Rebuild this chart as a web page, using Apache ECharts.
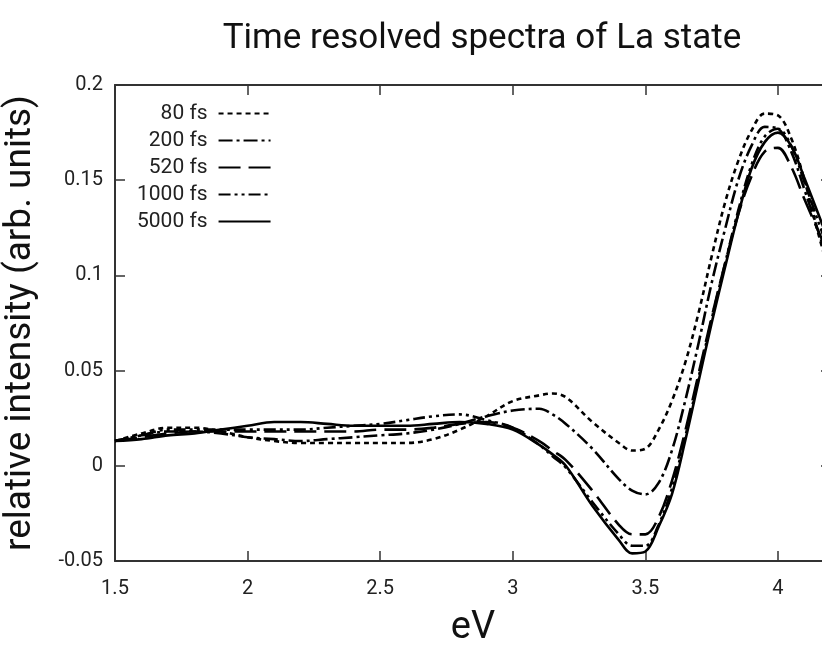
<!DOCTYPE html>
<html><head><meta charset="utf-8">
<script src="https://cdn.jsdelivr.net/npm/echarts@6/dist/echarts.min.js"></script>
<style>html,body{margin:0;padding:0;background:#fff}#c{width:822px;height:645px}</style>
</head><body><div id="c"></div>
<script>
const energy = [1.5,1.6,1.7,1.8,1.9,2.0,2.1,2.2,2.3,2.4,2.5,2.6,2.7,2.8,2.9,
  3.0,3.1,3.15,3.2,3.3,3.4,3.45,3.5,3.55,3.6,3.65,3.7,3.75,3.8,3.85,3.9,3.95,4.0,4.05,4.1,4.15,4.2];
const s80 = [.013,.017,.020,.020,.018,.015,.013,.012,.012,.012,.012,.012,.014,.019,.026,
  .034,.037,.038,.036,.023,.012,.008,.009,.019,.034,.054,.080,.110,.138,.160,.176,.185,.184,.172,.150,.123,.098];
const s200 = [.013,.016,.018,.018,.017,.015,.014,.013,.014,.015,.016,.017,.019,.022,.026,
  .029,.030,.027,.022,.009,-.007,-.013,-.015,-.009,.008,.034,.064,.096,.124,.150,.168,.178,.177,.165,.145,.124,.102];
const s520 = [.013,.015,.017,.018,.018,.018,.018,.018,.018,.018,.019,.019,.020,.022,.023,
  .020,.013,.008,.003,-.013,-.031,-.036,-.036,-.027,-.008,.018,.048,.078,.106,.132,.152,.165,.167,.157,.140,.124,.108];
const s1000 = [.013,.016,.019,.019,.019,.019,.019,.019,.020,.021,.022,.024,.026,.027,.024,
  .020,.011,.005,-.001,-.019,-.036,-.042,-.042,-.031,-.012,.015,.046,.077,.106,.134,.158,.173,.177,.168,.149,.129,.110];
const s5000 = [.013,.014,.016,.017,.019,.021,.023,.023,.022,.021,.021,.021,.022,.023,.022,
  .019,.011,.006,.000,-.021,-.039,-.046,-.045,-.032,-.015,.013,.044,.075,.104,.132,.156,.170,.175,.168,.151,.133,.115];
const seriesNames = ['80 fs','200 fs','520 fs','1000 fs','5000 fs'];
const seriesValues = [s80, s200, s520, s1000, s5000];
const dashes = [[5,4],[14,4,3,4],[22,8],[12,4,3,4,3,4],'solid'];
const titleText = 'Time resolved spectra of La state';
const xName = 'eV';
const yName = 'relative intensity (arb. units)';

const FONT = 'Roboto';
const axisColor = '#333';
const chart = echarts.init(document.getElementById('c'), null, {renderer:'canvas'});
const series = seriesNames.map((n,i)=>({
  name:n, type:'line', symbol:'none', smooth:0.35,
  data: energy.map((x,j)=>[x, seriesValues[i][j]]),
  lineStyle:{color:'#000', width:2.6, type:dashes[i]},
  itemStyle:{color:'#000'}, xAxisIndex:0, yAxisIndex:0
}));
const tickCommon = {show:true, inside:true, length:10, lineStyle:{color:axisColor, width:1.5}};
const lineCommon = {show:true, onZero:false, lineStyle:{color:axisColor, width:2}};
chart.setOption({
  animation:false,
  backgroundColor:'#fff',
  title:{text:titleText, left:477, textAlign:'center', top:17,
    textStyle:{fontFamily:FONT, fontSize:35, fontWeight:'normal', color:'#111'}},
  legend:{orient:'vertical', left:132, top:98, align:'right', itemGap:6,
    itemWidth:52, itemHeight:16,
    itemStyle:{opacity:0},
    textStyle:{fontFamily:FONT, fontSize:21, color:'#222', padding:[0,6,0,0]},
    data:seriesNames},
  grid:{left:115, top:85, width:716, height:476, containLabel:false, outerBoundsMode:'none'},
  xAxis:[{type:'value', min:1.5, max:4.2, interval:0.5, position:'bottom',
    name:xName, nameLocation:'middle', nameGap:48,
    nameTextStyle:{fontFamily:FONT, fontSize:38, color:'#111'},
    axisLine:lineCommon,
    axisTick:tickCommon,
    axisLabel:{fontFamily:FONT, fontSize:20, color:'#222', margin:18, showMaxLabel:false,
      formatter:v=>String(+v.toFixed(2))},
    splitLine:{show:false}},
   {type:'value', min:1.5, max:4.2, interval:0.5, position:'top',
    axisLine:lineCommon,
    axisTick:tickCommon, axisLabel:{show:false}, splitLine:{show:false}}],
  yAxis:[{type:'value', min:-0.05, max:0.2, interval:0.05, position:'left',
    name:yName, nameLocation:'middle', nameGap:76,
    nameTextStyle:{fontFamily:FONT, fontSize:37, color:'#111'},
    axisLine:lineCommon,
    axisTick:tickCommon,
    axisLabel:{fontFamily:FONT, fontSize:20, color:'#222', margin:12,
      formatter:v=>String(+v.toFixed(2))},
    splitLine:{show:false}},
   {type:'value', min:-0.05, max:0.2, interval:0.05, position:'right',
    axisLine:lineCommon,
    axisTick:tickCommon, axisLabel:{show:false}, splitLine:{show:false}}],
  series:series
});
</script></body></html>
